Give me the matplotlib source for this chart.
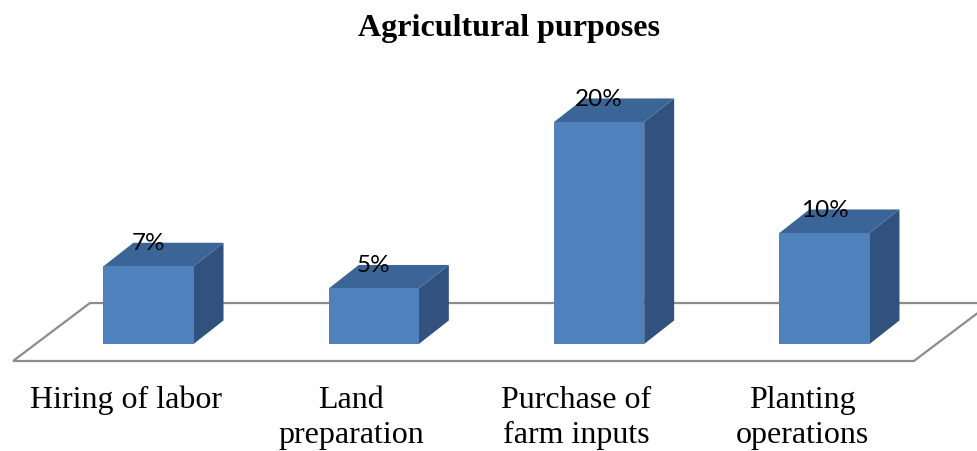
import matplotlib.pyplot as plt
from matplotlib.patches import Polygon

# data
categories = ["Hiring of labor", "Land\npreparation", "Purchase of\nfarm inputs", "Planting\noperations"]
values = [7, 5, 20, 10]
value_labels = ["7%", "5%", "20%", "10%"]
title = "Agricultural purposes"

# colours for the three visible faces of each block
front_col = "#4f81bd"
top_col = "#3b6597"
side_col = "#31527e"

bar_w = 0.40      # bar width in category units
depth_x = 0.133   # oblique depth offset (x)
depth_y = 2.12    # oblique depth offset (y, in %)

fig = plt.figure(figsize=(9.77, 4.52), dpi=100)
ax = fig.add_axes([0, 0, 1, 1])
ax.set_xlim(-0.659, 3.677)
ax.set_ylim(-9.64, 31.08)
ax.axis("off")

# floor plane
floor = Polygon([(-0.601, -1.53), (3.397, -1.53), (3.739, 3.69), (-0.260, 3.69)],
                closed=True, facecolor="white", edgecolor="#8c8c8c", linewidth=1.6, zorder=1)
ax.add_patch(floor)

for i, v in enumerate(values):
    x0 = i - bar_w / 2
    x1 = i + bar_w / 2
    front = Polygon([(x0, 0), (x1, 0), (x1, v), (x0, v)], closed=True,
                    facecolor=front_col, edgecolor="none", zorder=3)
    top = Polygon([(x0, v), (x1, v), (x1 + depth_x, v + depth_y), (x0 + depth_x, v + depth_y)],
                  closed=True, facecolor=top_col, edgecolor="none", zorder=2)
    side = Polygon([(x1, 0), (x1 + depth_x, depth_y), (x1 + depth_x, v + depth_y), (x1, v)],
                   closed=True, facecolor=side_col, edgecolor="none", zorder=2)
    for p in (side, top, front):
        ax.add_patch(p)
    ax.text(i, v + 1.55, value_labels[i], ha="center", va="baseline",
            fontsize=17.5, family="Lato", color="black", zorder=4)
    ax.text(i - 0.1, -3.65, categories[i], ha="center", va="top",
            fontsize=23, family="Liberation Serif", linespacing=1.3, zorder=4)

ax.text(1.6, 27.8, title, ha="center", va="baseline", fontsize=23,
        family="Liberation Serif", fontweight="bold")

fig.savefig("out.png", dpi=100)
